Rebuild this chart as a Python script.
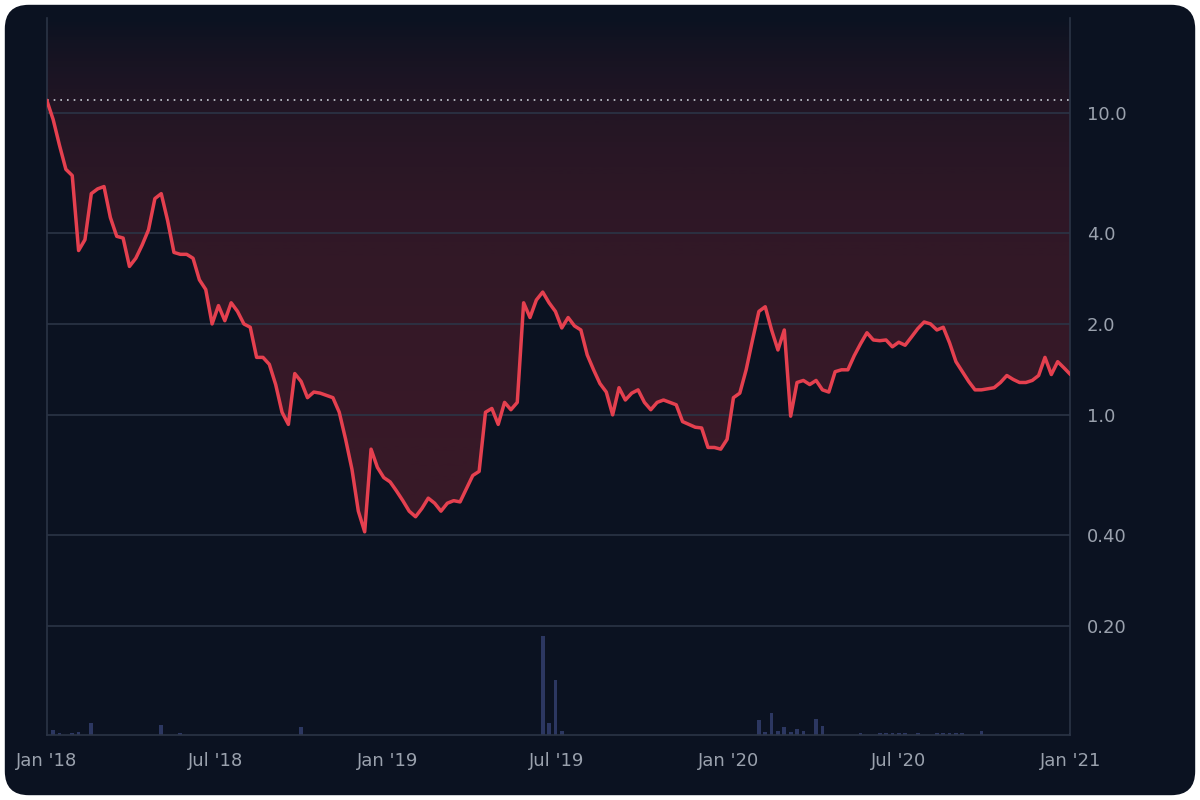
import numpy as np, pandas as pd, matplotlib
matplotlib.use("Agg")
import matplotlib.pyplot as plt, seaborn as sns
from matplotlib.patches import FancyBboxPatch, Polygon
import matplotlib.dates as mdates
from matplotlib.ticker import FixedLocator, NullLocator
from matplotlib.colors import LinearSegmentedColormap

values = [11.0,9.5,7.8,6.5,6.2,3.5,3.8,5.4,5.6,5.7,4.5,3.9,3.85,3.1,3.3,3.65,4.1,5.2,5.4,4.4,
 3.45,3.4,3.4,3.3,2.8,2.6,2.0,2.3,2.05,2.35,2.2,2.0,1.95,1.55,1.55,1.47,1.26,1.02,0.93,1.37,
 1.29,1.14,1.19,1.18,1.16,1.14,1.02,0.83,0.66,0.48,0.41,0.77,0.67,0.62,0.60,0.56,0.52,0.48,0.46,0.49,
 0.53,0.51,0.48,0.51,0.52,0.515,0.57,0.63,0.65,1.02,1.05,0.93,1.10,1.04,1.10,2.35,2.1,2.4,2.55,2.35,
 2.2,1.94,2.1,1.97,1.91,1.58,1.41,1.27,1.19,1.0,1.23,1.12,1.18,1.21,1.10,1.04,1.10,1.12,1.10,1.08,
 0.95,0.93,0.91,0.905,0.78,0.78,0.77,0.83,1.14,1.18,1.41,1.77,2.2,2.28,1.91,1.64,1.91,0.99,1.28,1.30,
 1.26,1.30,1.21,1.19,1.39,1.41,1.41,1.57,1.72,1.87,1.77,1.76,1.77,1.68,1.74,1.70,1.81,1.93,2.03,2.0,
 1.91,1.95,1.73,1.50,1.39,1.29,1.21,1.21,1.22,1.23,1.28,1.35,1.31,1.28,1.28,1.30,1.35,1.55,1.36,1.50,
 1.43,1.36]
vol_idx = [1, 2, 4, 5, 7, 18, 21, 40, 78, 79, 80, 81, 112, 113, 114, 115, 116, 117, 118, 119, 121, 122,
           128, 131, 132, 133, 134, 135, 137, 140, 141, 142, 143, 144, 147, 161]
vol_val = [5, 2, 2, 3, 12, 10, 2, 8, 100, 12, 55, 4, 15, 3, 22, 4, 8, 3, 6, 4, 16, 9,
           2, 2, 2, 2, 2, 2, 2, 2, 2, 2, 2, 2, 4, 2]
ath = 11.0
yticks = [0.2, 0.4, 1.0, 2.0, 4.0, 10.0]
ytick_labels = ["0.20", "0.40", "1.0", "2.0", "4.0", "10.0"]
xtick_dates = ["2018-01-01","2018-07-01","2019-01-01","2019-07-01","2020-01-01","2020-07-01","2021-01-01"]
xtick_labels = ["Jan '18","Jul '18","Jan '19","Jul '19","Jan '20","Jul '20","Jan '21"]

dates = pd.date_range("2018-01-01", "2021-01-01", periods=len(values))
vol = np.zeros(len(values))
for i, v in zip(vol_idx, vol_val):
    vol[i] = v
df = pd.DataFrame({"date": dates, "price": values, "vol": vol})

bg = "#0b1221"
sns.set_theme(style="dark")
plt.rcParams['font.family'] = ['DejaVu Sans']
fig = plt.figure(figsize=(12, 8), dpi=100)
fig.patch.set_alpha(0)
fig.patches.append(FancyBboxPatch((0.004, 0.006), 0.992, 0.988, boxstyle="round,pad=0,rounding_size=0.02",
                                  transform=fig.transFigure, fc=bg, ec="none", zorder=-10, mutation_aspect=1.5))
ax = fig.add_axes([0.039, 0.081, 0.853, 0.8965])
axv = ax.twinx()
axv.set_zorder(-1)
ax.set_zorder(1)
ax.patch.set_visible(False)
axv.patch.set_visible(False)
axv.bar(df["date"], df["vol"], width=4, color="#2c3761", linewidth=0)
axv.set_ylim(0, max(vol_val) * 7.2)
axv.set_yticks([])
for s in axv.spines.values(): s.set_visible(False)

ax.set_yscale("log")
x0, x1 = mdates.date2num(pd.Timestamp("2018-01-01")), mdates.date2num(pd.Timestamp("2021-01-01"))

xs = mdates.date2num(df["date"])
poly = Polygon(list(zip(xs, values)) + [(xs[-1], 20.6), (xs[0], 20.6)], closed=True, transform=ax.transData)
grad = np.linspace(0, 1, 256).reshape(-1, 1)
cmap = LinearSegmentedColormap.from_list("g", [(0.86, 0.2, 0.25, 0.22), (0.86, 0.2, 0.25, 0.0)])
im = ax.imshow(grad, aspect="auto", cmap=cmap, extent=[x0, x1, 0.4, 20.6], origin="lower", zorder=0)
im.set_clip_path(poly)
ax.set_ylim(0.087, 20.6)
ax.set_xlim(x0, x1)
axv.set_xlim(x0, x1)

sns.lineplot(data=df, x="date", y="price", ax=ax, color="#e5404f", lw=2.5, zorder=3)
ax.axhline(ath, color="#c8ccd4", ls=(0, (1, 3)), lw=1.2, zorder=2)
for t in yticks:
    ax.axhline(t, color="#2b3446", lw=1.2, zorder=1)

ax.yaxis.tick_right()
ax.yaxis.set_major_locator(FixedLocator(yticks))
ax.yaxis.set_minor_locator(NullLocator())
ax.set_yticklabels(ytick_labels)
ax.set_xticks([mdates.date2num(pd.Timestamp(d)) for d in xtick_dates])
ax.set_xticklabels(xtick_labels)
ax.tick_params(colors="#9aa1ad", labelsize=13, length=0, pad=12)
ax.set_xlabel(""); ax.set_ylabel("")
ax.grid(False)
for k, s in ax.spines.items():
    s.set_color("#2b3446"); s.set_linewidth(1.2)
ax.spines["top"].set_visible(False)
fig.savefig("out.png", dpi=100)
